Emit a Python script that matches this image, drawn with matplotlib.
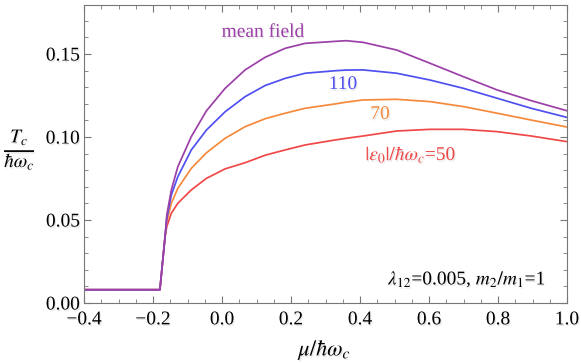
import numpy as np
import matplotlib
matplotlib.use("Agg")
import matplotlib.pyplot as plt
from matplotlib.ticker import MultipleLocator
import matplotlib.patheffects as pe

plt.rcParams['font.family'] = ['Liberation Serif', 'DejaVu Serif']
plt.rcParams['mathtext.fontset'] = 'stix'

# data
mu = [-0.40, -0.18, -0.165, -0.160, -0.147, -0.128, -0.089, -0.045, 0.009, 0.067,
      0.125, 0.183, 0.241, 0.328, 0.36, 0.409, 0.506, 0.603, 0.70, 0.798, 0.896, 1.0]
tc_mf = [0.008, 0.008, 0.040, 0.053, 0.068, 0.0821, 0.1002, 0.1158, 0.1293, 0.1404,
         0.148, 0.1534, 0.1564, 0.1576, 0.158, 0.157, 0.1524, 0.1444, 0.1363, 0.1283,
         0.1219, 0.1158]
tc_110 = [0.008, 0.008, 0.040, 0.051, 0.065, 0.0761, 0.0922, 0.1042, 0.1152, 0.1243,
          0.131, 0.1353, 0.1384, 0.1399, 0.1403, 0.1404, 0.1384, 0.1343, 0.1293, 0.1233,
          0.1173, 0.1118]
tc_70 = [0.008, 0.008, 0.040, 0.049, 0.060, 0.0691, 0.0811, 0.0905, 0.0992, 0.1062,
         0.111, 0.1143, 0.1173, 0.1199, 0.1210, 0.1223, 0.1227, 0.1213, 0.1183, 0.1143,
         0.1102, 0.1060]
tc_50 = [0.008, 0.008, 0.040, 0.046, 0.054, 0.0601, 0.0681, 0.0751, 0.0808, 0.0845,
         0.089, 0.0922, 0.0952, 0.0982, 0.0992, 0.1006, 0.1036, 0.1046, 0.1046, 0.1032,
         0.1006, 0.0972]

series = [
    (tc_50, '#f04848', r'$|\varepsilon_0|/\hbar\omega_c$=50', 0.548, 0.0898),
    (tc_70, '#f58a3c', '70', 0.458, 0.1136),
    (tc_110, '#5050f0', '110', 0.351, 0.1316),
    (tc_mf, '#9c3fa8', 'mean field', 0.119, 0.163),
]

fig = plt.figure(figsize=(5.81, 3.63), dpi=100)
ax = fig.add_axes([84/581, 1-303/363, (567-84)/581, (303-5)/363])

shadow = [pe.withSimplePatchShadow(offset=(0.8, -1.2), shadow_rgbFace='#999999', alpha=0.22)]

for vals, col, lab, lx, ly in series:
    ax.plot(mu, vals, color=col, lw=1.25, solid_joinstyle='round')
    ax.text(lx, ly, lab, color=col, fontsize=14, ha='center', va='center',
            path_effects=shadow)

ax.set_xlim(-0.4, 1.0)
ax.set_ylim(0, 0.1795)
ax.xaxis.set_major_locator(MultipleLocator(0.2))
ax.xaxis.set_minor_locator(MultipleLocator(0.05))
ax.yaxis.set_major_locator(MultipleLocator(0.05))
ax.yaxis.set_minor_locator(MultipleLocator(0.01))
ax.tick_params(which='both', direction='in', top=True, right=True, color='#777777')
ax.tick_params(which='major', length=5, width=0.8)
ax.tick_params(which='minor', length=3, width=0.6)
for s in ax.spines.values():
    s.set_color('#777777')
    s.set_linewidth(0.8)

xt = [-0.4, -0.2, 0.0, 0.2, 0.4, 0.6, 0.8, 1.0]
yt = [0.00, 0.05, 0.10, 0.15]
ax.set_xticks(xt)
ax.set_xticklabels([f'{v:.1f}'.replace('-', '\u2212') for v in xt])
ax.set_yticks(yt)
ax.set_yticklabels([f'{v:.2f}' for v in yt])
for t in ax.get_xticklabels() + ax.get_yticklabels():
    t.set_fontsize(14)
    t.set_path_effects(shadow)
ax.tick_params(axis='x', pad=6)
ax.tick_params(axis='y', pad=3)

ax.text(0.481, 0.0145, r'$\lambda_{12}$=0.005, $m_2/m_1$=1', fontsize=14,
        ha='left', va='center', path_effects=shadow)

fig.text(325/581, 1-350/363, r'$\mu/\hbar\omega_c$', fontsize=16, ha='center', va='center',
         path_effects=shadow)
fig.text(20/581, 1-150/363, r'$\frac{T_c}{\hbar\omega_c}$', fontsize=20, ha='center', va='center',
         path_effects=shadow)

fig.savefig('out.png', dpi=100)
